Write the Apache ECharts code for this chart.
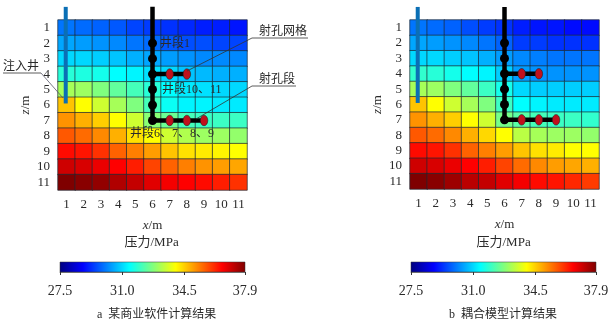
<!DOCTYPE html>
<html><head><meta charset="utf-8">
<style>html,body{margin:0;padding:0;background:#fff}#c{width:613px;height:328px}</style>
<script src="https://cdn.jsdelivr.net/npm/echarts@6/dist/echarts.min.js"></script>
</head><body><div id="c"></div>
<script>
const xCats = ['1','2','3','4','5','6','7','8','9','10','11'];
const zCats = ['1','2','3','4','5','6','7','8','9','10','11'];
const barTicks = [27.5, 31.0, 34.5, 37.9];
const pressureA = [
 [30.0,29.9,29.8,29.7,29.5,29.4,29.3,29.2,29.1,29.1,29.0],
 [30.5,30.4,30.3,30.2,30.0,29.9,29.7,29.6,29.6,29.5,29.5],
 [31.0,31.0,30.9,30.8,30.6,30.5,30.4,30.3,30.2,30.2,30.2],
 [31.8,31.7,31.6,31.4,31.3,31.1,31.0,30.8,30.7,30.6,30.6],
 [33.1,33.0,32.7,32.4,32.1,31.8,31.4,31.2,31.1,31.0,31.0],
 [34.6,34.0,33.5,33.1,32.7,32.1,31.5,31.3,31.3,31.2,31.2],
 [35.1,34.8,34.5,34.0,33.5,32.8,32.5,32.1,32.0,32.0,32.0],
 [35.7,35.5,35.2,34.8,34.3,34.0,33.5,33.2,33.0,33.0,32.9],
 [36.5,36.4,36.1,35.6,35.3,35.0,34.6,34.3,34.2,34.1,34.0],
 [37.1,37.0,36.8,36.6,36.3,35.9,35.6,35.3,35.1,35.0,34.9],
 [37.9,37.8,37.7,37.4,37.2,36.9,36.7,36.6,36.5,36.3,36.1]
];
const pressureB = [
 [30.0,29.9,29.8,29.6,29.4,29.3,29.1,29.0,29.0,28.9,28.9],
 [30.5,30.4,30.3,30.2,30.0,29.8,29.4,29.4,29.3,29.3,29.3],
 [31.0,31.0,30.9,30.8,30.6,30.4,30.2,30.1,30.0,30.0,30.0],
 [31.9,31.8,31.6,31.4,31.3,30.9,30.4,30.3,30.3,30.3,30.3],
 [33.1,33.0,32.7,32.4,32.0,31.6,31.0,30.9,30.9,30.9,30.9],
 [34.6,34.0,33.5,33.1,32.7,32.0,31.4,31.3,31.2,31.2,31.2],
 [35.1,34.8,34.5,34.0,33.5,32.6,32.3,32.1,32.0,32.0,31.9],
 [35.7,35.5,35.2,34.8,34.4,34.0,33.3,33.1,33.0,33.0,32.9],
 [36.5,36.4,36.1,35.6,35.3,35.0,34.6,34.3,34.2,34.0,34.0],
 [37.1,37.0,36.8,36.6,36.3,35.9,35.5,35.2,35.0,34.9,34.8],
 [37.9,37.8,37.6,37.3,37.2,36.9,36.7,36.5,36.4,36.2,36.0]
];
const injectionWell = [[0.95,-0.35],[0.95,5.9]];
const trunkWell = [[6,-0.35],[6,7],[9,7]];
const branchWell = [[6,4],[8,4]];
const blackNodes = [[6,2],[6,3],[6,4],[6,5],[6,6],[6,7]];
const redNodes = [[7,4],[8,4],[7,7],[8,7],[9,7]];
const jet = ['#00007f','#0000ff','#007fff','#00ffff','#7fff7f','#ffff00','#ff7f00','#ff0000','#7f0000'];
const FONT = '"Liberation Serif","Noto Sans CJK SC",serif';
const TXT = '#2a2a2a';

const grid=[],xAxis=[],yAxis=[],series=[],visualMap=[],graphic=[];
function panel(dx, w, data, caption, gridTop, gridH, barLeft){
  const g0 = grid.length;
  grid.push({left:58+dx, top:gridTop, width:w, height:gridH});
  xAxis.push({type:'category',gridIndex:g0,data:xCats,position:'bottom',
    name:'{i|x}/m',nameLocation:'middle',nameGap:29,
    nameTextStyle:{rich:{i:{fontStyle:'italic',fontFamily:FONT,fontSize:13,color:TXT}},fontFamily:FONT,fontSize:13,color:TXT},
    axisLine:{show:false},axisTick:{show:false},splitLine:{show:false},
    axisLabel:{interval:0,margin:8,fontFamily:FONT,fontSize:13,color:TXT}});
  yAxis.push({type:'category',gridIndex:g0,data:zCats,inverse:true,
    name:'{i|z}/m',nameLocation:'middle',nameGap:26,nameRotate:90,
    nameTextStyle:{rich:{i:{fontStyle:'italic',fontFamily:FONT,fontSize:13,color:TXT}},fontFamily:FONT,fontSize:13,color:TXT},
    axisLine:{show:false},axisTick:{show:false},splitLine:{show:false},
    axisLabel:{interval:0,margin:8,fontFamily:FONT,fontSize:13,color:TXT}});
  const cells=[];
  data.forEach((row,r)=>row.forEach((v,c)=>cells.push([c,r,v])));
  const sIdx = series.length;
  series.push({type:'heatmap',xAxisIndex:g0,yAxisIndex:g0,data:cells,progressive:0,
    itemStyle:{borderColor:'#1c2a33',borderWidth:0.7},emphasis:{disabled:true}});
  visualMap.push({type:'continuous',seriesIndex:sIdx,min:27.5,max:37.9,show:false,inRange:{color:jet}});

  const g1 = grid.length;
  grid.push({left:58+dx, top:gridTop, width:w, height:gridH});
  xAxis.push({type:'value',gridIndex:g1,min:0.5,max:11.5,show:false});
  yAxis.push({type:'value',gridIndex:g1,min:0.5,max:11.5,inverse:true,show:false});
  const base={xAxisIndex:g1,yAxisIndex:g1,clip:false,silent:true,animation:false};
  series.push(Object.assign({type:'line',data:injectionWell,symbol:'none',lineStyle:{color:'#0b6fb5',width:4,cap:'butt'}},base));
  series.push(Object.assign({type:'line',data:trunkWell,symbol:'none',lineStyle:{color:'#000',width:4.5,join:'miter'}},base));
  series.push(Object.assign({type:'line',data:branchWell,symbol:'none',lineStyle:{color:'#000',width:4.5}},base));
  series.push(Object.assign({type:'scatter',data:blackNodes,symbol:'circle',symbolSize:9,itemStyle:{color:'#000',opacity:1}},base));
  series.push(Object.assign({type:'scatter',data:redNodes,symbol:'circle',symbolSize:[7.5,10.5],z:3,itemStyle:{color:'#c0101c',opacity:1,borderColor:'#222',borderWidth:0.6}},base));

  const g2 = grid.length;
  grid.push({left:barLeft, top:262, width:185, height:10});
  xAxis.push({type:'value',gridIndex:g2,min:27.5,max:37.9,position:'bottom',
    axisLine:{show:true,lineStyle:{color:'#333',width:0.6}},splitLine:{show:false},
    axisTick:{show:true,length:3,inside:false,customValues:barTicks,lineStyle:{color:'#333',width:1}},
    axisLabel:{customValues:barTicks,margin:12,fontFamily:FONT,fontSize:14,color:TXT,
      formatter:v=>v.toFixed(1),showMinLabel:true,showMaxLabel:true,alignMinLabel:'center',alignMaxLabel:'center'}});
  yAxis.push({type:'value',gridIndex:g2,min:0,max:1,show:false});
  graphic.push({type:'rect',z:-1,shape:{x:barLeft,y:262,width:185,height:10},
    style:{stroke:'#333',lineWidth:0.5,fill:new echarts.graphic.LinearGradient(0,0,1,0,
      jet.map((color,i)=>({offset:i/(jet.length-1),color})))}});

  graphic.push({type:'text',left:58+dx+w/2-28,top:236,style:{text:'压力/MPa',font:'13px '+FONT,fill:TXT}});
  graphic.push({type:'text',left:97+dx,top:309,style:{text:caption,font:'12px '+FONT,fill:TXT}});
}
panel(0,189,pressureA,'a  某商业软件计算结果',20,170,60);
panel(352,189,pressureB,'b  耦合模型计算结果',20,169,411);

function note(text,left,top){graphic.push({type:'text',left,top,z:10,style:{text,font:'12px '+FONT,fill:TXT}});}
function seg(x1,y1,x2,y2,c){graphic.push({type:'line',z:10,shape:{x1,y1,x2,y2},style:{stroke:c||'#333',lineWidth:0.8}});}
note('井段1',160,38); note('井段10、11',162,84); note('井段6、7、8、9',130,128);
note('射孔网格',259,26); note('射孔段',259,74); note('注入井',3,61);
seg(252,38,308,38); seg(252,38,187,71);
seg(252,86,296,86); seg(252,86,196,119);
seg(3,73,41,73); seg(41,73,63,98,'#556');

const chart = echarts.init(document.getElementById('c'),null,{renderer:'canvas'});
chart.setOption({animation:false,backgroundColor:'#fff',tooltip:{show:false},grid,xAxis,yAxis,visualMap,series,graphic});
</script></body></html>
